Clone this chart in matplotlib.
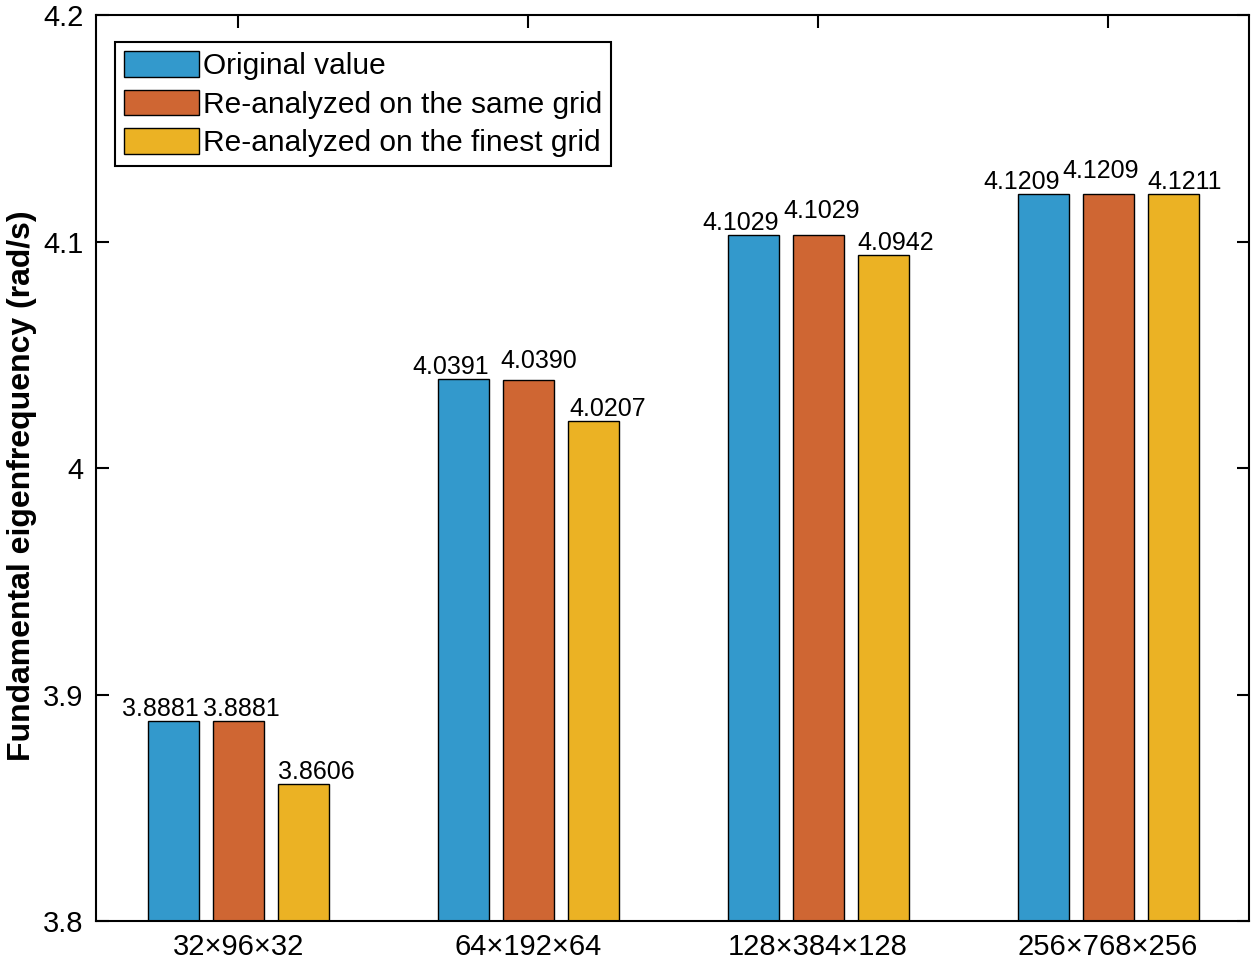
import numpy as np
import matplotlib
matplotlib.use("Agg")
import matplotlib.pyplot as plt

plt.rcParams['font.family'] = ['Liberation Sans', 'DejaVu Sans']

grids = ["32×96×32", "64×192×64", "128×384×128", "256×768×256"]
series_names = ["Original value", "Re-analyzed on the same grid", "Re-analyzed on the finest grid"]
original = [3.8881, 4.0391, 4.1029, 4.1209]
same_grid = [3.8881, 4.0390, 4.1029, 4.1209]
finest_grid = [3.8606, 4.0207, 4.0942, 4.1211]
labels_txt = [["3.8881", "4.0391", "4.1029", "4.1209"],
              ["3.8881", "4.0390", "4.1029", "4.1209"],
              ["3.8606", "4.0207", "4.0942", "4.1211"]]

colors = ["#3399CC", "#CF6633", "#EBB224"]

# label placement, one row per series (alignment, x shift px, y shift px)
label_ha = [["right", "right", "right", "right"],
            ["center", "left", "center", "center"],
            ["left", "left", "left", "left"]]
label_dx = [[0, 0, 0, -9],
            [3.5, -2, 3.5, -7],
            [0, 2, 0, 0]]
label_dy = [[0, 0, 0, 0],
            [0, 7, 12, 11],
            [0, 0, 0, 0]]

fig = plt.figure(figsize=(12.55, 9.67), dpi=100)
ax = fig.add_axes([96 / 1255, 46 / 967, 1153 / 1255, 906 / 967])

x = np.arange(len(grids))
w = 0.176
off = 0.224
px = 72 / 100

for i, vals in enumerate([original, same_grid, finest_grid]):
    xs = x + (i - 1) * off
    bars = ax.bar(xs, vals, width=w, bottom=0, color=colors[i], edgecolor="black",
                  linewidth=1.0, label=series_names[i], zorder=2)
    for j, b in enumerate(bars):
        ha = label_ha[i][j]
        if ha == "right":
            bx = b.get_x() + b.get_width()
        elif ha == "left":
            bx = b.get_x()
        else:
            bx = b.get_x() + b.get_width() / 2
        ax.annotate(labels_txt[i][j], (bx, vals[j]),
                    xytext=(label_dx[i][j] * px, label_dy[i][j] * px),
                    textcoords="offset points", ha=ha, va="bottom", fontsize=18)

ax.set_xlim(-0.49, 3.486)
ax.set_ylim(3.8, 4.2)
ax.set_yticks([3.8, 3.9, 4.0, 4.1, 4.2])
ax.set_yticklabels(["3.8", "3.9", "4", "4.1", "4.2"])
ax.set_xticks(x)
ax.set_xticklabels(grids)
ax.tick_params(direction="in", length=9, width=1.5, labelsize=21,
               top=True, right=True)
ax.tick_params(axis="y", pad=9)
ax.tick_params(axis="x", pad=8.5)
for s in ax.spines.values():
    s.set_linewidth(1.5)

ax.set_ylabel("Fundamental eigenfrequency (rad/s)", fontsize=23, fontweight="bold")
ax.yaxis.set_label_coords(-0.051, 0.481)

leg = ax.legend(loc="upper left", bbox_to_anchor=(0.0165, 0.970), borderaxespad=0,
                fontsize=21.5, handlelength=2.5, handleheight=0.93, handletextpad=0.15,
                labelspacing=0.32, borderpad=0.3, fancybox=False, framealpha=1)
leg.get_frame().set_edgecolor("black")
leg.get_frame().set_linewidth(1.5)

plt.savefig("out.png", dpi=100)
plt.close(fig)
